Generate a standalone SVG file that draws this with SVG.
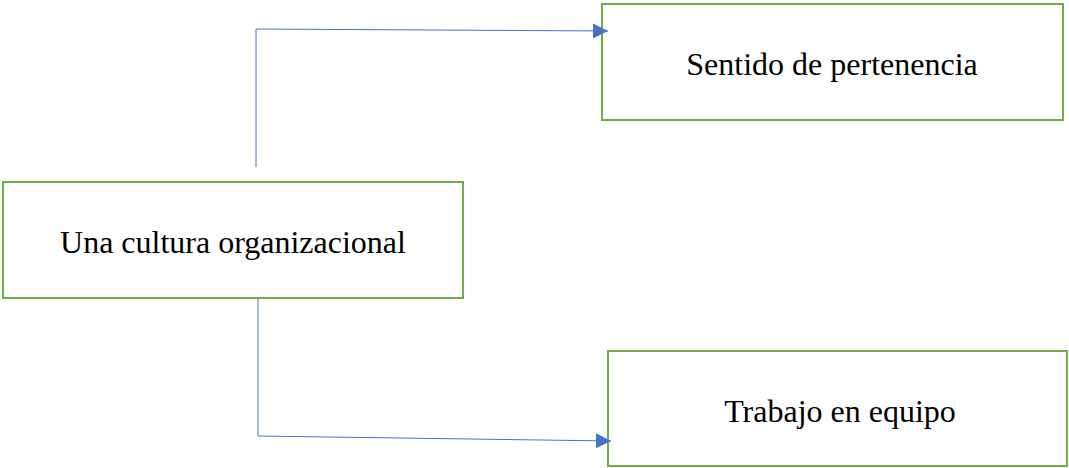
<svg xmlns="http://www.w3.org/2000/svg" width="1069" height="468" viewBox="0 0 1069 468">
<style>
.box{fill:#fff;stroke:#70AD47;stroke-width:2}
.lbl{font-family:"Liberation Serif","Times New Roman",serif;font-size:32px;fill:#000;text-anchor:middle}
.con{fill:none;stroke:#4472C4;stroke-width:1}
</style>
<defs>
<marker id="arr" viewBox="0 0 10 10" refX="10" refY="5" markerWidth="15" markerHeight="15" markerUnits="userSpaceOnUse" orient="auto">
<path d="M0,0 L10,5 L0,10 Z" fill="#4472C4"/>
</marker>
</defs>
<g id="n1"><rect class="box" x="3" y="182" width="460" height="116"/><text class="lbl" x="233" y="253">Una cultura organizacional</text></g>
<g id="n2"><rect class="box" x="602" y="4" width="461" height="116"/><text class="lbl" x="832" y="75">Sentido de pertenencia</text></g>
<g id="n3"><rect class="box" x="608" y="351" width="459" height="115"/><text class="lbl" x="840" y="422">Trabajo en equipo</text></g>
<g id="connectors">
<line class="con" x1="256" y1="167" x2="256" y2="29"/>
<line class="con" x1="256" y1="29" x2="608" y2="31" marker-end="url(#arr)"/>
<line class="con" x1="258" y1="298" x2="258" y2="436"/>
<line class="con" x1="258" y1="436" x2="611" y2="441" marker-end="url(#arr)"/>
</g>
</svg>
